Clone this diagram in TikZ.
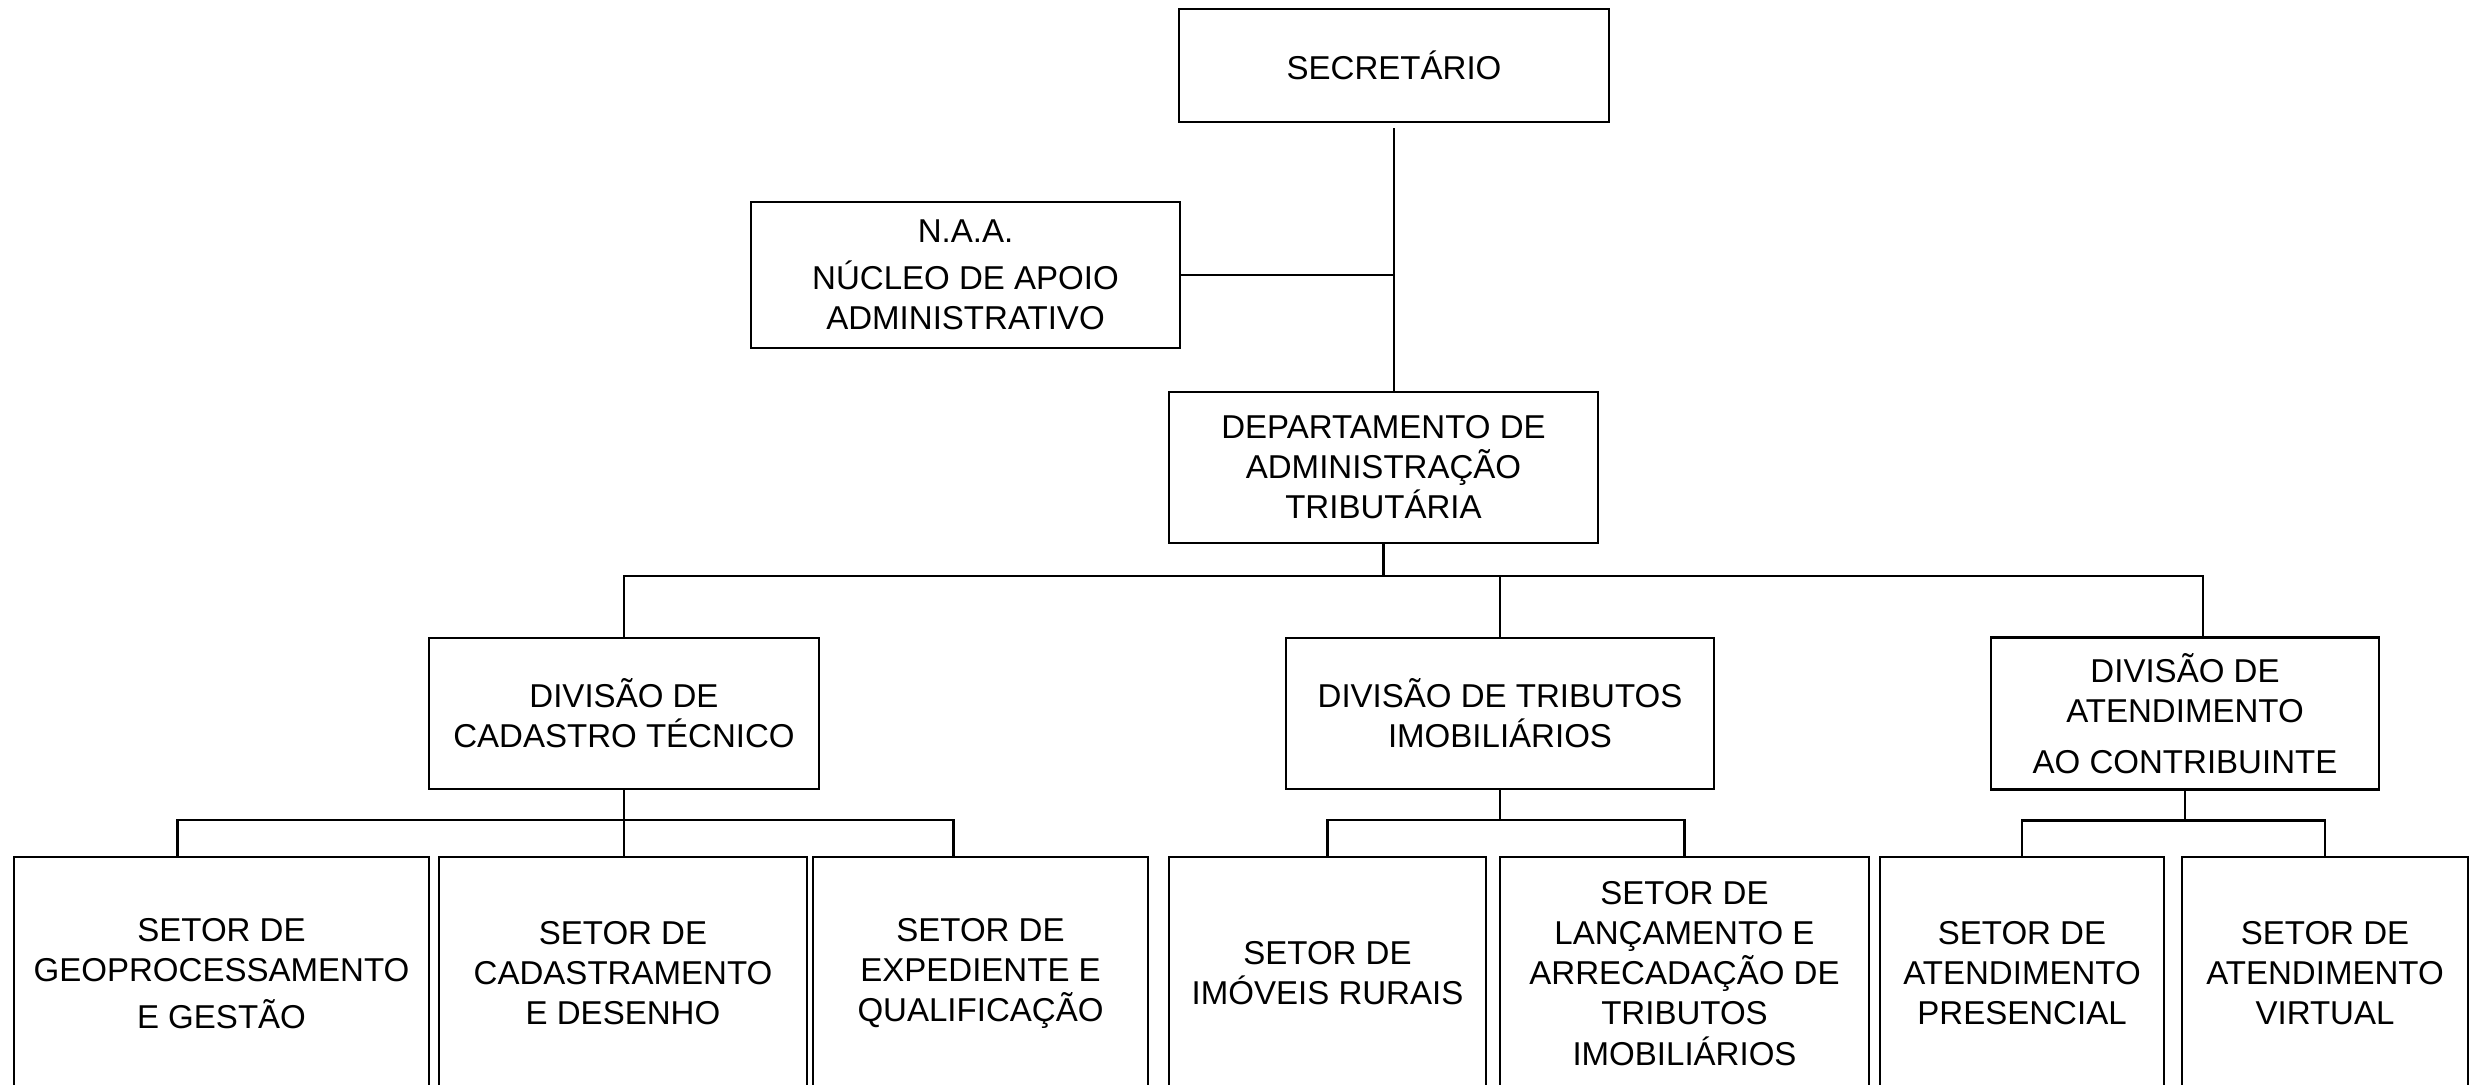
\documentclass[tikz,border=0pt]{standalone}
\usepackage{fontspec}
\setmainfont{Liberation Sans}
\usetikzlibrary{positioning}

\begin{document}
\begin{tikzpicture}[% List of styles applied to all, to override specify on a case-by-case
      every node/.style={
        align=center,                         % use this so that the "\\" for line break works
        font=\fontsize{9.4}{11.4}\selectfont, % same text size in every box
        inner sep=0pt
      },
      box/.style={rectangle,draw=black,line width=0.65pt,fill=white,outer sep=0pt},
      link/.style={draw,line width=0.6pt}
    ]
    \useasboundingbox (0,0) rectangle (24.79,10.84);
    % top levels
    \node[box,minimum width=4.30cm,minimum height=1.13cm](SEC) at (13.94,10.185){SECRETÁRIO};
    \node[box,minimum width=4.29cm,minimum height=1.46cm](NAA) at (9.655,8.09){N.A.A.\\[2pt] NÚCLEO DE APOIO\\ ADMINISTRATIVO};
    \node[box,minimum width=4.29cm,minimum height=1.51cm](DEP)[below=2.70cm of SEC,xshift=-0.105cm]{DEPARTAMENTO DE\\ ADMINISTRAÇÃO\\ TRIBUTÁRIA};
    % divisions
    \node[box,minimum width=4.28cm,minimum height=1.51cm](TRIB)[below=0.95cm of DEP,xshift=1.165cm]{DIVISÃO DE TRIBUTOS\\ IMOBILIÁRIOS};
    \node[box,minimum width=3.90cm,minimum height=1.51cm](CAD)[left=4.67cm of TRIB]{DIVISÃO DE\\ CADASTRO TÉCNICO};
    \node[box,minimum width=3.88cm,minimum height=1.52cm](ATD)[right=2.77cm of TRIB]{DIVISÃO DE\\ ATENDIMENTO\\[3pt] AO CONTRIBUINTE};
    % sectors
    \node[box,minimum width=4.15cm,minimum height=2.33cm](GEO) at (2.215,1.105){SETOR DE\\ GEOPROCESSAMENTO\\[2pt] E GESTÃO};
    \node[box,minimum width=3.68cm,minimum height=2.33cm](CDZ)[right=0.10cm of GEO]{SETOR DE\\ CADASTRAMENTO\\ E DESENHO};
    \node[box,minimum width=3.35cm,minimum height=2.33cm](EXP)[right=0.06cm of CDZ]{SETOR DE\\ EXPEDIENTE E\\ QUALIFICAÇÃO};
    \node[box,minimum width=3.17cm,minimum height=2.33cm](RUR)[right=0.21cm of EXP]{SETOR DE\\ IMÓVEIS RURAIS};
    \node[box,minimum width=3.69cm,minimum height=2.33cm](LAN)[right=0.14cm of RUR]{SETOR DE\\ LANÇAMENTO E\\ ARRECADAÇÃO DE\\ TRIBUTOS\\ IMOBILIÁRIOS};
    \node[box,minimum width=2.84cm,minimum height=2.33cm](PRE)[right=0.11cm of LAN]{SETOR DE\\ ATENDIMENTO\\ PRESENCIAL};
    \node[box,minimum width=2.86cm,minimum height=2.33cm](VIR)[right=0.18cm of PRE]{SETOR DE\\ ATENDIMENTO\\ VIRTUAL};
    % connectors
    \draw[link] ([yshift=-0.06cm]SEC.south) -- (SEC.south |- DEP.north);
    \draw[link] (NAA.east) -- (NAA.east -| SEC.south);
    \draw[link] (DEP.south) -- ++(0,-0.33) coordinate (bus1);
    \draw[link] (CAD.north) |- (bus1) -| ([xshift=0.18cm]ATD.north);
    \draw[link] (bus1 -| TRIB.north) -- (TRIB.north);
    \draw[link] (CAD.south) -- ++(0,-0.31) coordinate (bus2);
    \draw[link] ([xshift=-0.44cm]GEO.north) |- (bus2) -| ([xshift=-0.27cm]EXP.north);
    \draw[link] (bus2) -- (bus2 |- CDZ.north);
    \draw[link] (TRIB.south) -- ++(0,-0.31) coordinate (bus3);
    \draw[link] (RUR.north) |- (bus3) -| (LAN.north);
    \draw[link] (ATD.south) -- ++(0,-0.31) coordinate (bus4);
    \draw[link] (PRE.north) |- (bus4) -| (VIR.north);
  \end{tikzpicture}
\end{document}
